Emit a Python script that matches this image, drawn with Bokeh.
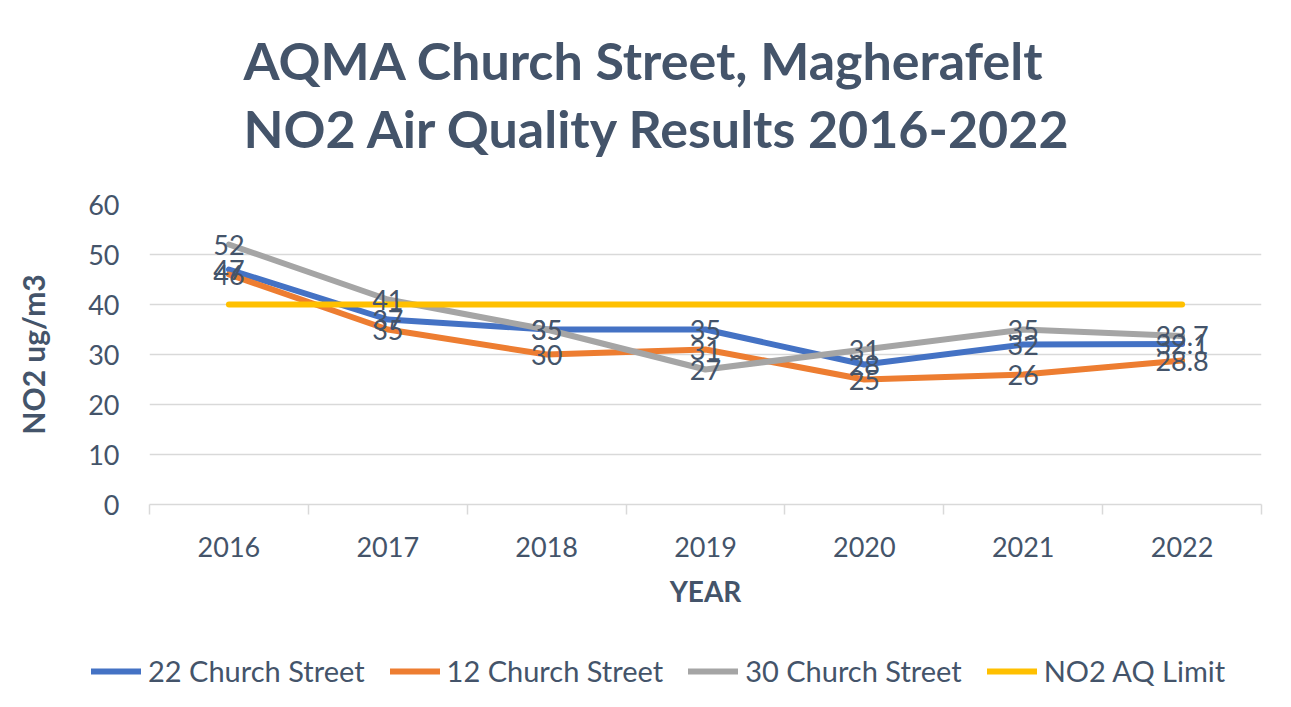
from bokeh.plotting import figure
from bokeh.layouts import column
from bokeh.models import FixedTicker, Title, Legend, LegendItem, Range1d
from bokeh.embed import file_html
from bokeh.resources import INLINE
from bokeh.core.properties import value

years = [2016, 2017, 2018, 2019, 2020, 2021, 2022]
church22 = [47, 37, 35, 35, 28, 32, 32.1]
church12 = [46, 35, 30, 31, 25, 26, 28.8]
church30 = [52, 41, 35, 27, 31, 35, 33.7]
no2_limit = [40, 40, 40, 40, 40, 40, 40]
series_names = ["22 Church Street", "12 Church Street", "30 Church Street", "NO2 AQ Limit"]
series_colors = ["#4472C4", "#ED7D31", "#A5A5A5", "#FFC000"]
title_lines = ["AQMA Church Street, Magherafelt", "NO2 Air Quality Results 2016-2022"]
y_ticks = [0, 10, 20, 30, 40, 50, 60]
x_title = "YEAR"
y_title = "NO2 ug/m3"

FONT = "Lato"
TXT = "#44546A"
GRID = "#D9D9D9"

p = figure(frame_width=1112, frame_height=300, output_backend="svg", toolbar_location=None,
           x_range=Range1d(years[0] - 0.5, years[-1] + 0.5), y_range=Range1d(0, 60),
           min_border_left=149, min_border_right=22, min_border_top=204, min_border_bottom=110)
p.outline_line_color = None
p.background_fill_color = "white"
p.border_fill_color = "white"

p.title = Title(text="\n".join(title_lines), align="left", offset=94, standoff=0,
                text_line_height=1.1,
                text_font=FONT, text_font_size="52px", text_font_style="bold", text_color=TXT)
# blank spacer between the title block and the plot area
p.add_layout(Title(text=" ", text_font_size="1px", standoff=42), "above")

series = [church22, church12, church30, no2_limit]
for vals, col in zip(series, series_colors):
    p.line(years, vals, line_color=col, line_width=6, line_cap="round", line_join="round")

for vals in series[:3]:
    labels = [f"{v:g}" for v in vals]
    p.text(years, vals, text=labels, text_align="center", text_baseline="middle",
           text_font=value(FONT), text_font_size="27px", text_color=TXT)

# x axis
minor = [y - 0.5 for y in years] + [years[-1] + 0.5]
p.xaxis.ticker = FixedTicker(ticks=years, minor_ticks=minor)
p.xaxis.axis_line_color = GRID
p.xaxis.axis_line_width = 1.5
p.xaxis.major_tick_line_color = None
p.xaxis.major_tick_out = 0
p.xaxis.major_tick_in = 0
p.xaxis.minor_tick_line_color = GRID
p.xaxis.minor_tick_line_width = 1.5
p.xaxis.minor_tick_out = 10
p.xaxis.minor_tick_in = 0
p.xaxis.major_label_text_font = FONT
p.xaxis.major_label_text_font_size = "27px"
p.xaxis.major_label_text_color = TXT
p.xaxis.major_label_standoff = 22
p.xaxis.axis_label = x_title
p.xaxis.axis_label_text_font = FONT
p.xaxis.axis_label_text_font_size = "28px"
p.xaxis.axis_label_text_font_style = "bold"
p.xaxis.axis_label_text_color = TXT
p.xaxis.axis_label_standoff = 14

# y axis
p.yaxis.ticker = FixedTicker(ticks=y_ticks)
p.yaxis.axis_line_color = None
p.yaxis.major_tick_line_color = None
p.yaxis.minor_tick_line_color = None
p.yaxis.major_tick_out = 0
p.yaxis.major_label_text_font = FONT
p.yaxis.major_label_text_font_size = "27px"
p.yaxis.major_label_text_color = TXT
p.yaxis.major_label_standoff = 30
p.yaxis.axis_label = y_title
p.yaxis.axis_label_text_font = FONT
p.yaxis.axis_label_text_font_size = "30px"
p.yaxis.axis_label_text_font_style = "bold"
p.yaxis.axis_label_text_color = TXT
p.yaxis.axis_label_standoff = 34

p.xgrid.grid_line_color = None
p.ygrid.grid_line_color = GRID
p.ygrid.grid_line_width = 1.5

# legend strip below the chart (series repeated here only as legend sources,
# ranges keep them out of view)
leg = figure(frame_width=1283, frame_height=93, output_backend="svg", toolbar_location=None,
             x_axis_location=None, y_axis_location=None, min_border=0,
             x_range=Range1d(0, 1), y_range=Range1d(0, 1))
leg.outline_line_color = None
leg.grid.visible = False
leg_renderers = [leg.line(years, vals, line_color=col, line_width=6, line_cap="round")
                 for vals, col in zip(series, series_colors)]
legend = Legend(items=[LegendItem(label=n, renderers=[r]) for n, r in zip(series_names, leg_renderers)],
                orientation="horizontal", location=(91, 19),
                glyph_width=50, glyph_height=20, label_standoff=7, spacing=25,
                label_text_font=FONT, label_text_font_size="29px", label_text_color=TXT,
                border_line_color=None, background_fill_alpha=0, padding=0, margin=0)
leg.add_layout(legend, "center")

layout = column(p, leg, spacing=0)
open("out.html", "w").write(file_html(layout, INLINE))
